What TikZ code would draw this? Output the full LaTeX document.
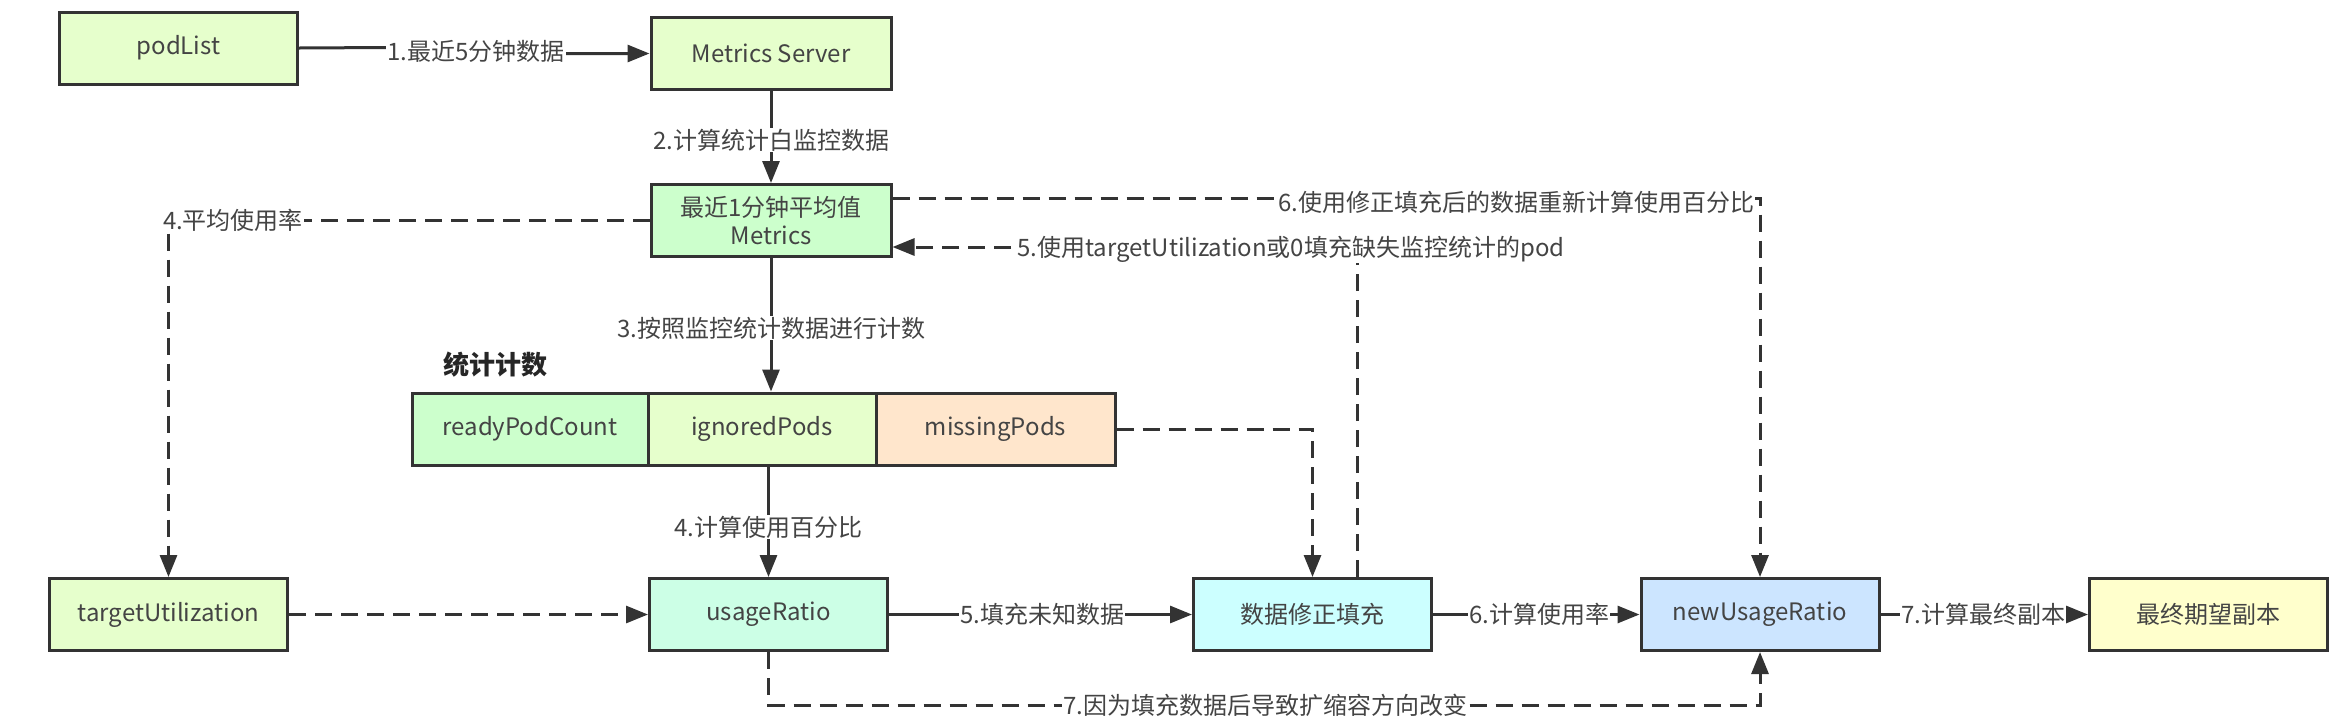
\documentclass[tikz,border=0pt]{standalone}
\usepackage{fontspec}
\setmainfont{Noto Sans CJK SC}
\usetikzlibrary{arrows.meta,calc}
\definecolor{cYG}{HTML}{E6FFCC}
\definecolor{cG}{HTML}{CCFFCC}
\definecolor{cOr}{HTML}{FFE6CC}
\definecolor{cMint}{HTML}{CCFFE6}
\definecolor{cCyan}{HTML}{CCFFFF}
\definecolor{cBlue}{HTML}{CCE5FF}
\definecolor{cYel}{HTML}{FFFFCC}
\definecolor{ink}{HTML}{333333}
\definecolor{txt}{HTML}{444444}
\tikzset{
  box/.style={draw=ink, line width=3pt, minimum width=238pt, minimum height=72pt, inner sep=0pt, text=txt, font=\fontsize{24}{30}\selectfont, align=center},
  cellbox/.style={box, minimum height=72pt},
  lbl/.style={fill=white, inner sep=1pt, text=txt, font=\fontsize{24}{28}\selectfont},
  conn/.style={draw=ink, line width=3pt, -{Triangle[length=22pt,width=17pt]}},
  dconn/.style={conn, dash pattern=on 17pt off 9pt},
}
\begin{document}
\begin{tikzpicture}[x=1pt,y=-1pt]
\useasboundingbox (0,0) rectangle (2349,724);
% nodes
\node[box, fill=cYG] (pod) at (178.5,48) {podList};
\node[box, fill=cYG, minimum width=240pt] (ms) at (771,53.5) {Metrics Server};
\node[box, fill=cG, minimum width=240pt] (avg) at (771,220.5) {最近1分钟平均值\\[-2pt]Metrics};
\node[font=\bfseries\fontsize{26}{30}\selectfont, text=black!85] (cnt) at (495,365) {统计计数};
\node[cellbox, fill=cG, minimum width=236pt] (ready) at (530,429) {readyPodCount};
\node[cellbox, fill=cYG, minimum width=228pt] (ign) at (762,429) {ignoredPods};
\node[cellbox, fill=cOr, minimum width=239pt] (miss) at (995.5,429) {missingPods};
\node[box, fill=cYG] (tu) at (168.5,614.5) {targetUtilization};
\node[box, fill=cMint] (ur) at (768.5,614.5) {usageRatio};
\node[box, fill=cCyan] (fix) at (1312.5,614.5) {数据修正填充};
\node[box, fill=cBlue] (nur) at (1760,614.5) {newUsageRatio};
\node[box, fill=cYel] (fin) at (2208.5,614.5) {最终期望副本};
% connectors
\coordinate (j1) at (476,47);
\draw[conn] (pod.east) -- (j1) |- (ms.west);
\node[lbl] (l1) at (476,51) {1.最近5分钟数据};

\draw[conn] (ms.south) -- (avg.north);
\node[lbl] (l2) at (771,140) {2.计算统计白监控数据};

\draw[conn] (avg.south) -- (avg.south |- ign.north);
\node[lbl] (l3) at (771,328) {3.按照监控统计数据进行计数};

\draw[dconn] (avg.west) -| (tu.north);
\node[lbl] (l4a) at (233,220) {4.平均使用率};

\draw[conn] (ur.north |- ign.south) -- (ur.north);
\node[lbl] (l4b) at (768.5,527) {4.计算使用百分比};

\coordinate (f5) at ([xshift=44.5pt]fix.north);
\coordinate (a5) at ([yshift=-26.5pt]avg.east);
\draw[dconn] (f5) |- (a5);
\node[lbl] (l5a) at (1291,249) {5.使用targetUtilization或0填充缺失监控统计的pod};

\coordinate (a6) at ([yshift=22.5pt]avg.east);
\draw[dconn] (a6) -| (nur.north);
\node[lbl] (l6a) at (1516,202) {6.使用修正填充后的数据重新计算使用百分比};

\draw[dconn] (miss.east) -| (fix.north);

\draw[dconn] (tu.east) -- (ur.west);

\draw[conn] (ur.east) -- (fix.west);
\node[lbl] (l5b) at (1042,614) {5.填充未知数据};

\draw[conn] (fix.east) -- (nur.west);
\node[lbl] (l6b) at (1539,614) {6.计算使用率};

\draw[conn] (nur.east) -- (fin.west);
\node[lbl] (l7a) at (1983,614) {7.计算最终副本};

\coordinate (b7) at (768.5,705);
\draw[dconn] (ur.south) -- (b7) -| (nur.south);
\node[lbl] (l7b) at (1265,705) {7.因为填充数据后导致扩缩容方向改变};
\end{tikzpicture}
\end{document}
